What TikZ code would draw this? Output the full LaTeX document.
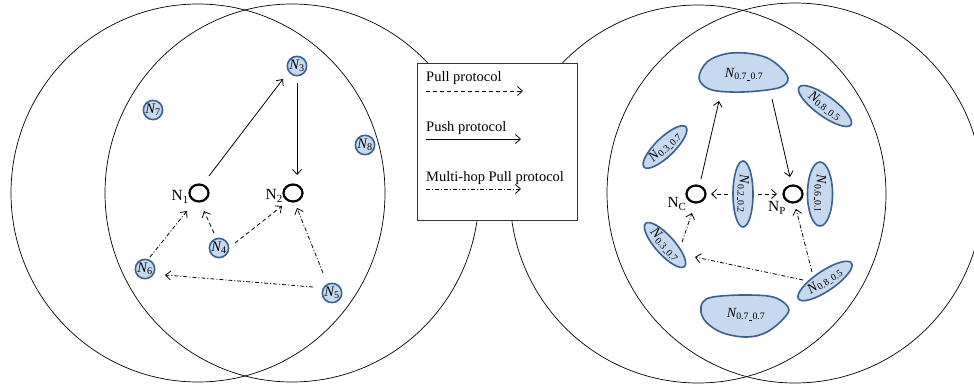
\documentclass[tikz,border=0pt]{standalone}
\usepackage{fontspec}
\setmainfont{Liberation Serif}
\usetikzlibrary{arrows.meta,shapes.geometric,calc}
\definecolor{peerfill}{RGB}{198,217,240}
\definecolor{peerline}{RGB}{58,96,142}
% italic node name with an upright subscript
\newcommand{\pname}[1]{\textit{N}\kern-0.5pt\textsubscript{#1}}
\newcommand{\usc}{\kern0.3pt\rule[-0.6pt]{3.4pt}{0.45pt}\kern0.3pt}
\tikzset{
  zone/.style={draw, line width=0.7pt},
  peer/.style={circle, draw=peerline, fill=peerfill, line width=1.6pt,
    minimum size=19pt, inner sep=0pt, font=\fontsize{14.5}{15}\selectfont},
  hub/.style={ellipse, draw, line width=2.2pt, minimum width=19pt,
    minimum height=17pt, inner sep=0pt},
  cluster/.style={ellipse, draw=peerline, fill=peerfill, line width=1.6pt,
    inner sep=0pt, font=\fontsize{14}{15}\selectfont},
  blob/.style={draw=peerline, fill=peerfill, line width=1.6pt},
  hublabel/.style={font=\fontsize{15.5}{17}\selectfont, inner sep=0pt},
  legendtext/.style={font=\fontsize{14.5}{16}\selectfont, anchor=base west, inner sep=0pt},
  push/.style={-{Straight Barb[length=5pt,width=9pt]}, line width=0.8pt},
  pull/.style={push, dash pattern=on 4pt off 3pt},
  multihop/.style={push, dash pattern=on 4pt off 2pt on 1pt off 2pt},
}
\begin{document}
\begin{tikzpicture}[x=1pt,y=-1pt]
\useasboundingbox (0,0) rectangle (974,388);

% overlapping coverage zones
\draw[zone] (198,193) ellipse [x radius=187, y radius=189];
\draw[zone] (292,193) ellipse [x radius=187, y radius=189];
\draw[zone] (698,194) ellipse [x radius=188, y radius=189];
\draw[zone] (795,193) ellipse [x radius=188, y radius=190];

% ---------- left network ----------
\node[hub] (N1) at (199,193) {};
\node[hub] (N2) at (293,193) {};
\node[hublabel, anchor=east] (N1l) at (189,197) {N\textsubscript{1}};
\node[hublabel, anchor=east] (N2l) at (283,196) {N\textsubscript{2}};
\node[peer] (N3) at (297,66) {\pname{3}};
\node[peer] (N4) at (219,248) {\pname{4}};
\node[peer] (N5) at (332,293) {\pname{5}};
\node[peer] (N6) at (145,269) {\pname{6}};
\node[peer] (N7) at (153,110) {\pname{7}};
\node[peer] (N8) at (365,145) {\pname{8}};

\draw[push] ($(N1)+(10,-17)$) -- ($(N3)+(-14,13)$);
\draw[push] ($(N3)+(0,17)$) -- ($(N2)+(4,-18)$);
\draw[pull] ($(N4)+(-5,-15)$) -- ($(N1)+(5,18)$);
\draw[pull] ($(N4)+(16,-5)$) -- ($(N2)+(-11,13)$);
\draw[multihop] ($(N6)+(5,-12)$) -- ($(N1)+(-12,18)$);
\draw[multihop] ($(N5)+(-9,-20)$) -- ($(N2)+(4,15)$);
\draw[multihop] ($(N5)+(-19,-6)$) -- ($(N6)+(20,6)$);

% ---------- legend ----------
\draw[line width=1pt, draw=black!80, fill=white] (417,63) rectangle (577,220);
\node[legendtext] (lg1) at (426,81) {Pull protocol};
\node[legendtext] (lg2) at (426,131) {Push protocol};
\node[legendtext] (lg3) at (426,181) {Multi-hop Pull protocol};
\coordinate (pullA) at (426,91);  \coordinate (pullB) at (523,91);
\coordinate (pushA) at (426,139); \coordinate (pushB) at (521,139);
\coordinate (multA) at (426,189); \coordinate (multB) at (521,189);
\draw[pull] (pullA) -- (pullB);
\draw[push] (pushA) -- (pushB);
\draw[multihop] (multA) -- (multB);

% ---------- right network ----------
\coordinate (T) at (743,73);
\coordinate (B) at (744,316);
\draw[blob, shift={(T)}] plot[smooth cycle, tension=0.6] coordinates
  {(-44,5) (-36,-11) (-18,-19) (2,-20) (22,-16) (36,-7) (45,5) (38,14) (15,18) (-12,19) (-34,16)};
\draw[blob, shift={(B)}] plot[smooth cycle, tension=0.6] coordinates
  {(-43,-4) (-41,-14) (-31,-19) (-1,-21) (29,-19) (44,-9) (41,1) (23,16) (3,21) (-21,17) (-37,7)};
\node[font=\fontsize{14}{15}\selectfont] (Tl) at ($(T)+(1,1)$) {\pname{0.7\usc0.7}};
\node[font=\fontsize{14}{15}\selectfont] (Bl) at ($(B)+(2,-2)$) {\pname{0.7\usc0.7}};

\node[cluster, rotate=-36, minimum width=64pt, minimum height=20pt] (UR) at (825,106) {\pname{0.8\usc0.5}};
\node[cluster, rotate=44, minimum width=58pt, minimum height=19pt] (UL) at (665,147) {\pname{0.3\usc0.7}};
\node[cluster, rotate=-90, minimum width=66pt, minimum height=20pt] (C22) at (743,194) {\pname{0.2\usc0.2}};
\node[cluster, rotate=-90, minimum width=64pt, minimum height=25pt] (C61) at (820,194) {\pname{0.6\usc0.1}};
\node[cluster, rotate=-48, minimum width=58pt, minimum height=19pt] (LL) at (665,245) {\pname{0.3\usc0.7}};
\node[cluster, rotate=34, minimum width=64pt, minimum height=20pt] (LR) at (825,281) {\pname{0.8\usc0.5}};

\node[hub] (Nc) at (696,194) {};
\node[hub] (Np) at (793,194) {};
\node[hublabel] (Ncl) at (677,204) {N\textsubscript{C}};
\node[hublabel] (Npl) at (777,208) {N\textsubscript{P}};

\draw[push] ($(Nc)+(5,-15)$) -- ($(T)+(-24,28)$);
\draw[push] ($(T)+(29,26)$) -- ($(Np)+(-3,-17)$);
\draw[pull] ($(C22)+(-15,0)$) -- ($(Nc)+(15,0)$);
\draw[pull] ($(C22)+(15,0)$) -- ($(Np)+(-16,0)$);
\draw[multihop] ($(LL)+(17,-3)$) -- ($(Nc)+(-4,19)$);
\draw[multihop] ($(LR)+(-13,-9)$) -- ($(Np)+(3,15)$);
\draw[multihop] ($(LR)+(-22,-1)$) -- ($(LL)+(30,12)$);
\end{tikzpicture}
\end{document}
